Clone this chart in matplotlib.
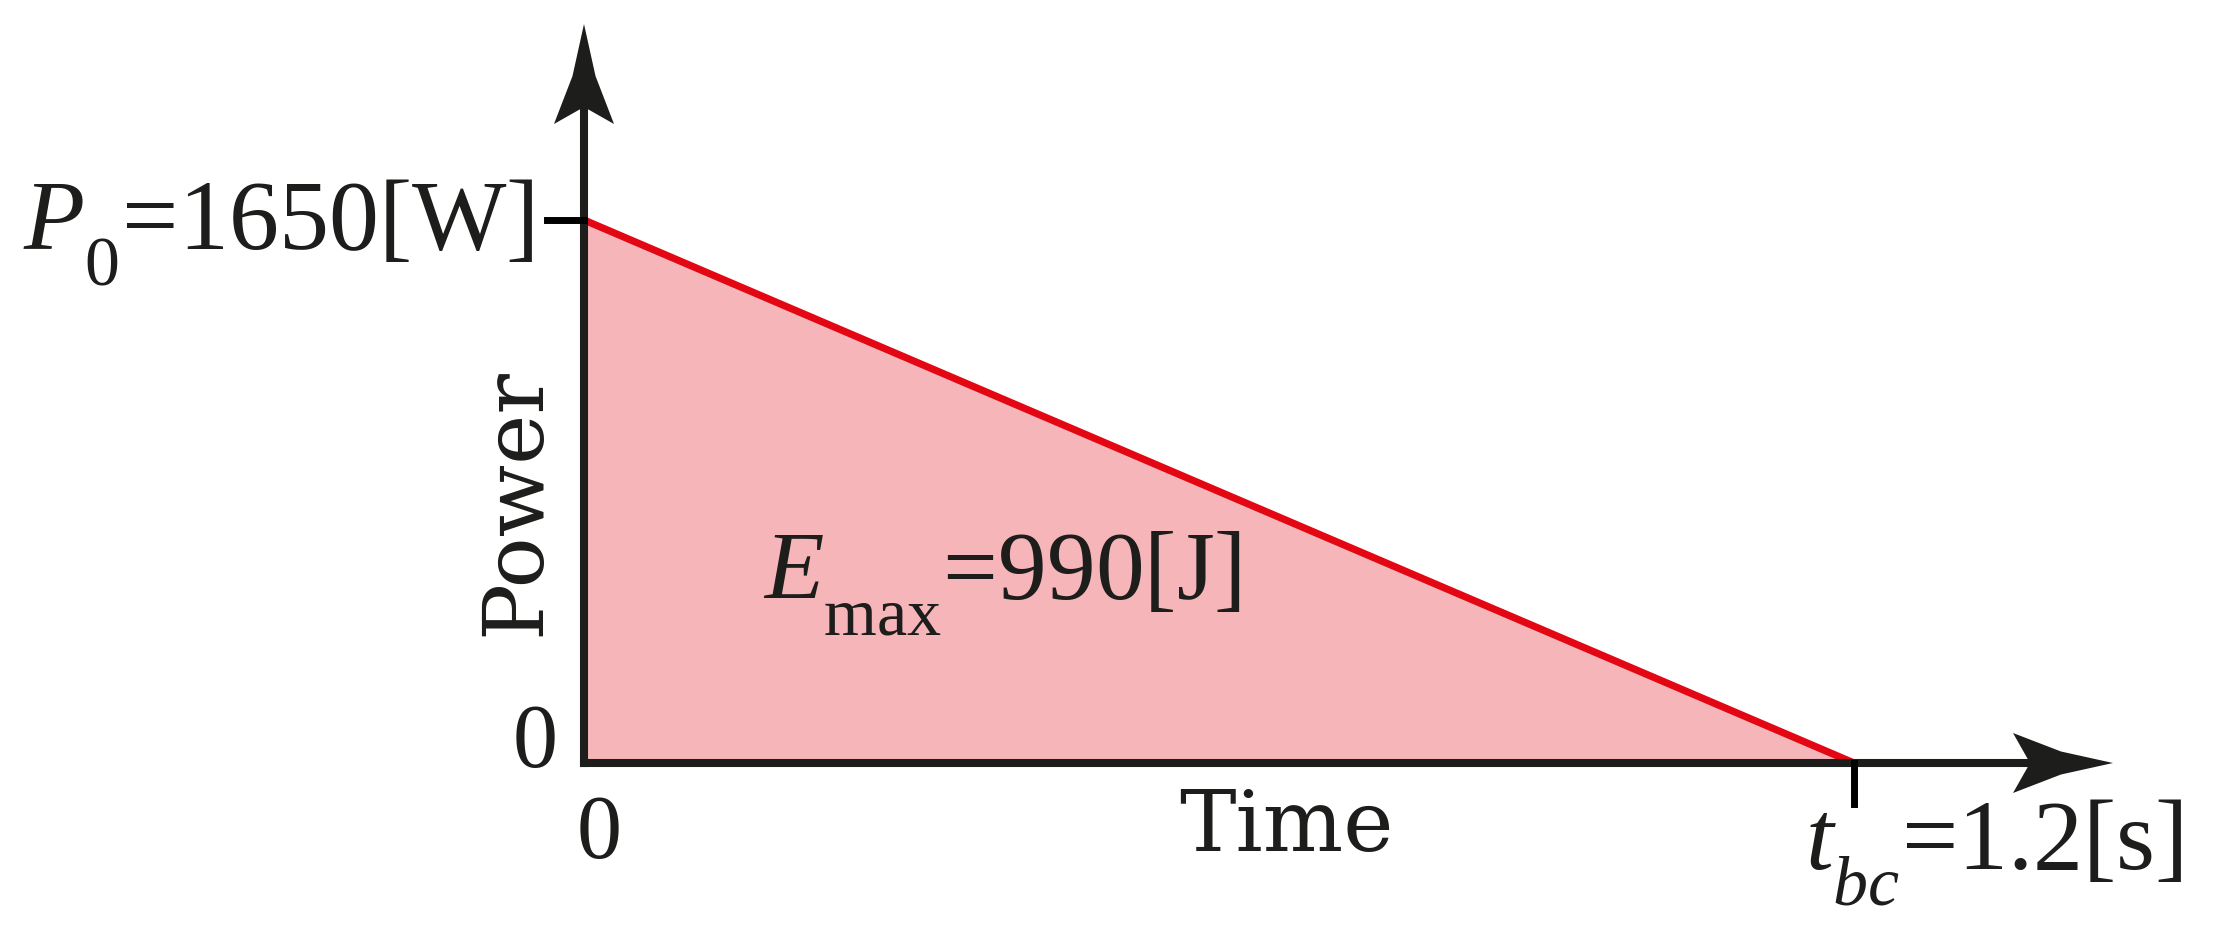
import numpy as np
import matplotlib
matplotlib.use("Agg")
import matplotlib.pyplot as plt
from matplotlib.patches import Polygon
from matplotlib import transforms
import matplotlib._mathtext as mt

plt.rcParams['font.family'] = ['Liberation Serif', 'DejaVu Serif']
plt.rcParams['mathtext.fontset'] = 'custom'
plt.rcParams['mathtext.rm'] = 'Liberation Serif'
plt.rcParams['mathtext.it'] = 'Liberation Serif:italic'
# subscripts sit lower in the original
mt.FontConstantsBase.subdrop = 0.8
mt.FontConstantsBase.sub1 = 0.8

# data
time_s = [0.0, 1.2]
power_w = [1650, 0]
p0_label = r'$P_0$=1650[W]'
tbc_label = r'$t_{bc}$=1.2[s]'
energy_label = r'$E_{\mathrm{max}}$=990[J]'

black = '#1d1d1b'
red = '#e30613'
pink = '#f5b5b9'

W, H, DPI = 2216, 932, 100
fig = plt.figure(figsize=(W / DPI, H / DPI), dpi=DPI)
ax = fig.add_axes([0, 0, 1, 1])
ax.set_axis_off()

# pixel layout: origin at (584, 169) from bottom-left, t_bc at x=1854, P0 at y=712
ox, oy = 584, 169
ppx = (1854 - ox) / time_s[1]
ppy = (712 - oy) / power_w[0]
ax.set_xlim(-ox / ppx, (W - ox) / ppx)
ax.set_ylim(-oy / ppy, (H - oy) / ppy)

ax.fill_between(time_s, power_w, 0, color=pink, lw=0, zorder=1)
ax.plot(time_s, power_w, color=red, lw=5.2, solid_capstyle='butt', zorder=2)

# axes with arrows
x_tip = (2113 - ox) / ppx
y_tip = (908 - oy) / ppy
lw_ax = 5.8
ax.plot([0, x_tip - 85 / ppx], [0, 0], color=black, lw=lw_ax,
        solid_capstyle='projecting', zorder=3)
ax.plot([0, 0], [0, y_tip - 85 / ppy], color=black, lw=lw_ax,
        solid_capstyle='projecting', zorder=3)

head = np.array([[0, 0], [-52, 11.5], [-100, 30], [-83, 0],
                 [-100, -30], [-52, -11.5]]) / DPI


def arrow_head(x, y, rot):
    tr = (transforms.Affine2D().rotate_deg(rot) + fig.dpi_scale_trans
          + transforms.ScaledTranslation(x, y, ax.transData))
    ax.add_patch(Polygon(head, closed=True, transform=tr, color=black,
                         lw=0, zorder=4))


arrow_head(x_tip, 0, 0)
arrow_head(0, y_tip, 90)

# ticks
ax.plot([-37 / ppx, 0], [power_w[0], power_w[0]], color='black', lw=5, zorder=3)
ax.plot([time_s[1], time_s[1]], [0, -41 / ppy], color='black', lw=5, zorder=3)

tk = dict(color=black, xycoords='figure pixels')
ax.annotate(p0_label, (534, 683), ha='right', va='baseline', fontsize=72, **tk)
ax.annotate('0', (558, 165), ha='right', va='baseline', fontsize=65, **tk)
ax.annotate('0', (599, 74), ha='center', va='baseline', fontsize=65, **tk)
ax.annotate('Time', (1286, 81), ha='center', va='baseline', fontsize=61,
            family='DejaVu Serif', **tk)
ax.annotate('Power', (516, 430), ha='center', va='center', rotation=90,
            fontsize=61, family='DejaVu Serif', **tk)
ax.annotate(energy_label, (763, 333), ha='left', va='baseline', fontsize=70, **tk)
ax.annotate(tbc_label, (1805, 62), ha='left', va='baseline', fontsize=72, **tk)

fig.savefig('out.png', dpi=DPI)
